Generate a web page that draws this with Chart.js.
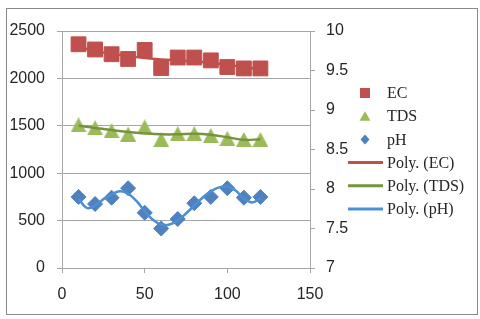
<!DOCTYPE html>
<html>
<head>
<meta charset="utf-8">
<script src="https://cdn.jsdelivr.net/npm/chart.js@4.4.1/dist/chart.umd.min.js"></script>
<style>
  html, body { margin: 0; padding: 0; background: #fff; }
  #wrap { position: relative; width: 480px; height: 319px; }
  #frame { position: absolute; left: 6px; top: 8px; width: 470px; height: 305px; border: 1px solid #8a8a8a; pointer-events: none; }
</style>
</head>
<body>
<div id="wrap">
  <canvas id="chart" width="480" height="319"></canvas>
  <div id="frame"></div>
</div>
<script>
// Sample positions and measured values
const sampleX = [10, 20, 30, 40, 50, 60, 70, 80, 90, 100, 110, 120];
const ecValues = [2360, 2305, 2255, 2205, 2300, 2110, 2220, 2220, 2190, 2120, 2105, 2105];
const tdsValues = [1510, 1480, 1448, 1413, 1488, 1356, 1418, 1418, 1397, 1367, 1356, 1356];
const phValues = [7.9, 7.81, 7.89, 8.01, 7.7, 7.5, 7.62, 7.82, 7.9, 8.01, 7.89, 7.9];

// Trendlines (polynomial)
const ecTrend = [2330, 2290, 2260, 2235, 2215, 2200, 2190, 2180, 2165, 2145, 2120, 2095];
const tdsTrend = [1500, 1478, 1455, 1435, 1420, 1410, 1410, 1415, 1405, 1380, 1352, 1358];
const phTrendX = [10, 15, 20, 25, 30, 35, 40, 45, 50, 55, 60, 65, 70, 75, 80, 85, 90, 95, 100, 105, 110, 115, 120];
const phTrend = [7.88, 7.76, 7.79, 7.87, 7.93, 7.97, 7.94, 7.85, 7.72, 7.61, 7.55, 7.55, 7.6, 7.69, 7.79, 7.89, 7.97, 8.02, 8.03, 7.98, 7.88, 7.83, 7.88];

// Series names and axis ticks
const seriesNames = ["EC", "TDS", "pH"];
const xTicks = [0, 50, 100, 150];
const leftTicks = [0, 500, 1000, 1500, 2000, 2500];
const rightTicks = [7, 7.5, 8, 8.5, 9, 9.5, 10];

const red = "#C0504D", green = "#9BBB59", greenDark = "#77933C", blue = "#4F81BD", blueLight = "#4A8FD8";
const gridColor = "#a6a6a6";
const tickFont = { family: "Liberation Sans", size: 16 };

function pts(xs, ys) {
    return xs.map((x, i) => ({ x: x, y: ys[i] }));
}

// Excel-style triangle: centred on its bounding box, not its centroid
function triangleImage(w, h, color) {
    const c = document.createElement("canvas");
    c.width = w; c.height = h;
    const g = c.getContext("2d");
    g.fillStyle = color;
    g.beginPath();
    g.moveTo(w / 2, 0);
    g.lineTo(w, h);
    g.lineTo(0, h);
    g.closePath();
    g.fill();
    return c;
}

function marker(label, data, color, style, radius, axis) {
    return {
        type: "scatter", label: label, data: data, yAxisID: axis, order: 1,
        showLine: false, pointStyle: style, pointRadius: radius, pointHoverRadius: radius,
        backgroundColor: color, borderColor: color, borderWidth: 1, legendShape: style
    };
}

function trend(label, data, color, axis) {
    return {
        type: "line", label: label, data: data, yAxisID: axis, order: 0,
        borderColor: color, backgroundColor: color, borderWidth: 2.5,
        pointRadius: 0, tension: 0.4, fill: false
    };
}

// Legend on the right, drawn on the canvas
const sideLegend = {
    id: "sideLegend",
    afterDraw(chart) {
        const ctx = chart.ctx;
        ctx.save();
        ctx.font = '16px "Liberation Serif"';
        ctx.textBaseline = "middle";
        chart.data.datasets.forEach((ds, i) => {
            const y = 93 + i * 23.2;
            ctx.fillStyle = ds.borderColor;
            if (ds.type === "scatter") {
                const cx = 365;
                ctx.beginPath();
                if (ds.legendShape === "rect") {
                    ctx.rect(cx - 5, y - 5, 10, 10);
                } else if (ds.legendShape === "triangle") {
                    ctx.moveTo(cx, y - 5);
                    ctx.lineTo(cx + 5.5, y + 4.5);
                    ctx.lineTo(cx - 5.5, y + 4.5);
                    ctx.closePath();
                } else {
                    ctx.moveTo(cx, y - 5);
                    ctx.lineTo(cx + 4.5, y);
                    ctx.lineTo(cx, y + 5);
                    ctx.lineTo(cx - 4.5, y);
                    ctx.closePath();
                }
                ctx.fill();
            } else {
                ctx.strokeStyle = ds.borderColor;
                ctx.lineWidth = 3;
                ctx.beginPath();
                ctx.moveTo(348, y);
                ctx.lineTo(383, y);
                ctx.stroke();
            }
            ctx.fillStyle = "#262626";
            ctx.fillText(ds.label, 387, y + 1);
        });
        ctx.restore();
    }
};

function initChart() {
    const ctx = document.getElementById("chart").getContext("2d");
    const tdsMarker = marker(seriesNames[1], pts(sampleX, tdsValues), green, triangleImage(16, 15, green), 8, "y");
    tdsMarker.legendShape = "triangle";
    new Chart(ctx, {
        data: {
            datasets: [
                marker(seriesNames[0], pts(sampleX, ecValues), red, "rect", 10.5, "y"),
                tdsMarker,
                marker(seriesNames[2], pts(sampleX, phValues), blue, "rectRot", 7.5, "y1"),
                trend("Poly. (" + seriesNames[0] + ")", pts(sampleX, ecTrend), red, "y"),
                trend("Poly. (" + seriesNames[1] + ")", pts(sampleX, tdsTrend), greenDark, "y"),
                trend("Poly. (" + seriesNames[2] + ")", pts(phTrendX, phTrend), blueLight, "y1")
            ]
        },
        options: {
            responsive: false,
            animation: false,
            layout: { padding: { left: 0, top: 31, right: 130, bottom: 11 } },
            plugins: { legend: { display: false }, tooltip: { enabled: false } },
            scales: {
                x: {
                    type: "linear", position: "bottom", min: 0, max: 150,
                    afterBuildTicks: s => { s.ticks = xTicks.map(v => ({ value: v })); },
                    afterFit: s => { s.height = 40; },
                    grid: { drawOnChartArea: false, drawTicks: true, tickLength: 5, color: gridColor },
                    border: { display: true, color: gridColor },
                    ticks: { font: tickFont, color: "#262626", padding: 12, maxRotation: 0, callback: v => String(v) }
                },
                y: {
                    type: "linear", position: "left", min: 0, max: 2500,
                    afterBuildTicks: s => { s.ticks = leftTicks.map(v => ({ value: v })); },
                    afterFit: s => { s.width = 62; },
                    grid: { color: gridColor, drawTicks: true, tickLength: 5 },
                    border: { display: true, color: gridColor },
                    ticks: { font: tickFont, color: "#262626", padding: 12, callback: v => String(v) }
                },
                y1: {
                    type: "linear", position: "right", min: 7, max: 10,
                    afterBuildTicks: s => { s.ticks = rightTicks.map(v => ({ value: v })); },
                    afterFit: s => { s.width = 40; },
                    grid: { drawOnChartArea: false, drawTicks: true, tickLength: 5, color: gridColor },
                    border: { display: true, color: gridColor },
                    ticks: { font: tickFont, color: "#262626", padding: 11, callback: v => String(v) }
                }
            }
        },
        plugins: [sideLegend]
    });
}

window.onload = initChart;
</script>
</body>
</html>
